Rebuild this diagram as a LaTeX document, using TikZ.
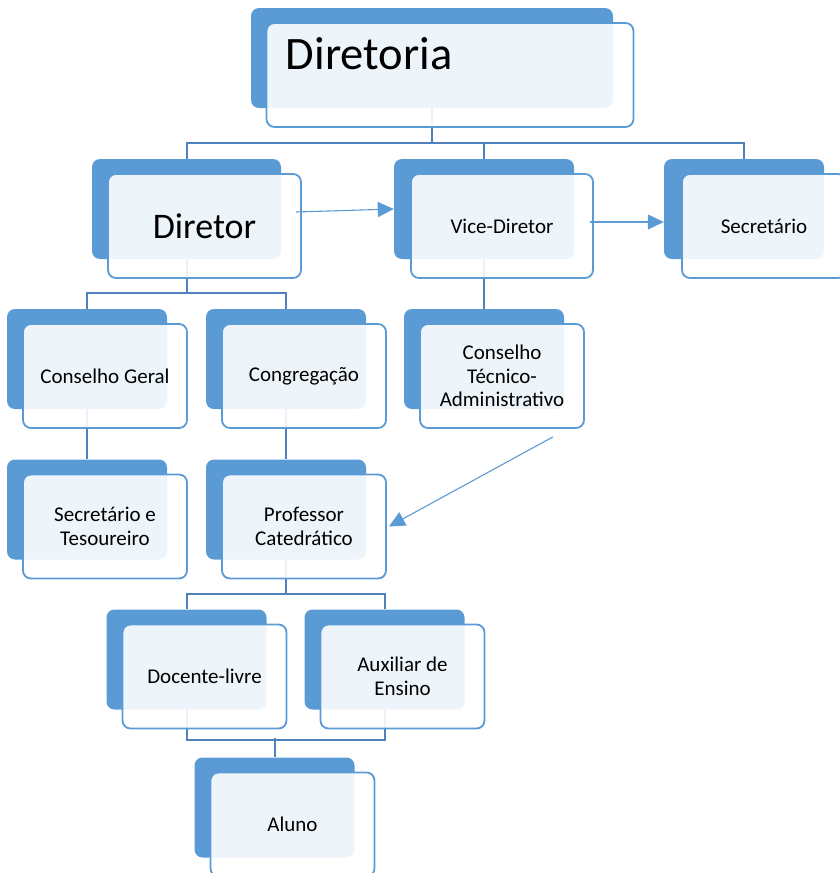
\documentclass[tikz,border=0pt]{standalone}
\usepackage{fontspec}
\setmainfont{Carlito}
\usepackage{tikz}
\usetikzlibrary{shapes,arrows.meta}
\definecolor{accent}{RGB}{91,155,213}
\definecolor{linkc}{RGB}{79,129,189}
\tikzstyle{back} = [rectangle,fill=accent,rounded corners=8pt,inner sep=0pt,minimum height=100pt,minimum width=160pt]
\tikzstyle{front} = [rectangle,draw=accent,line width=1.8pt,fill=white,fill opacity=0.9,text opacity=1,rounded corners=8pt,inner sep=0pt,minimum height=104pt,minimum width=164pt,align=center,font=\fontsize{21}{23.5}\selectfont]
\tikzstyle{link} = [draw=linkc,line width=2pt]
\tikzstyle{arrow} = [draw=accent,line width=1.1pt,-{Triangle[length=16pt,width=15pt]}]

\begin{document}
\begin{tikzpicture}[x=1pt,y=-1pt]
	\useasboundingbox (0,0) rectangle (839,873);

	%back boxes
	\node (diretoriaB) [back,minimum width=362pt] at (432,58) {};
	\node (diretorB) [back,minimum width=189pt] at (186.5,209) {};
	\node (viceB) [back,minimum width=180pt] at (484,209) {};
	\node (secB) [back] at (744,209) {};
	\node (geralB) [back] at (87,359) {};
	\node (congB) [back] at (286,359) {};
	\node (ctaB) [back] at (484,359) {};
	\node (tesB) [back] at (87,509.5) {};
	\node (profB) [back] at (286,509.5) {};
	\node (docB) [back] at (186.5,659.5) {};
	\node (auxB) [back] at (384.5,659.5) {};
	\node (alunoB) [back] at (274.5,807.5) {};

	%connectors
	\draw [link] (diretoriaB.south) -- ++(0,35) coordinate (j0);
	\draw [link] (j0) -| (diretorB.north);
	\draw [link] (j0) -| (viceB.north);
	\draw [link] (j0) -| (secB.north);
	\draw [link] (diretorB.south) -- ++(0,34) coordinate (j1);
	\draw [link] (j1) -| (geralB.north);
	\draw [link] (j1) -| (congB.north);
	\draw [link] (viceB.south) -- (ctaB.north);
	\draw [link] (geralB.south) -- (tesB.north);
	\draw [link] (congB.south) -- (profB.north);
	\draw [link] (profB.south) -- ++(0,34) coordinate (j2);
	\draw [link] (j2) -| (docB.north);
	\draw [link] (j2) -| (auxB.north);
	\draw [link] (docB.south) -- ++(0,30) -| (auxB.south);
	\draw [link] (alunoB.north) -- ++(0,-19);

	%front boxes
	\node (diretoria) [front,minimum width=367pt] at ([shift={(18,17)}]diretoriaB.center) {};
	\node (diretoriaT) [anchor=base west,inner sep=0pt,font=\fontsize{46.5}{50}\selectfont] at ([shift={(20,47)}]diretoria.north west) {Diretoria};
	\node (diretor) [front,minimum width=193pt,font=\fontsize{36}{40}\selectfont] at ([shift={(18,17)}]diretorB.center) {Diretor};
	\node (vice) [front,minimum width=182pt] at ([shift={(18,17)}]viceB.center) {Vice-Diretor};
	\node (sec) [front] at ([shift={(20,17)}]secB.center) {Secretário};
	\node (geral) [front] at ([shift={(18,17)}]geralB.center) {Conselho Geral};
	\node (cong) [front] at ([shift={(18,17)}]congB.center) {Congregação};
	\node (cta) [front] at ([shift={(18,17)}]ctaB.center) {Conselho\\Técnico-\\Administrativo};
	\node (tes) [front] at ([shift={(18,17)}]tesB.center) {Secretário e\\Tesoureiro};
	\node (prof) [front] at ([shift={(18,17)}]profB.center) {Professor\\Catedrático};
	\node (doc) [front] at ([shift={(18,17)}]docB.center) {Docente-livre};
	\node (aux) [front] at ([shift={(18,17)}]auxB.center) {Auxiliar de\\Ensino};
	\node (aluno) [front] at ([shift={(18,17)}]alunoB.center) {Aluno};

	%arrows
	\coordinate (a1) at ([shift={(-6,-14)}]diretor.east);
	\coordinate (a2) at ([shift={(-4,-4)}]vice.east);
	\coordinate (a3) at ([shift={(-32,8)}]cta.south east);
	\draw [arrow] (a1) -- (viceB.west);
	\draw [arrow] (a2) -- ([shift={(0,13)}]secB.west);
	\draw [arrow] (a3) -- ([shift={(2,0)}]prof.east);
\end{tikzpicture}
\end{document}
